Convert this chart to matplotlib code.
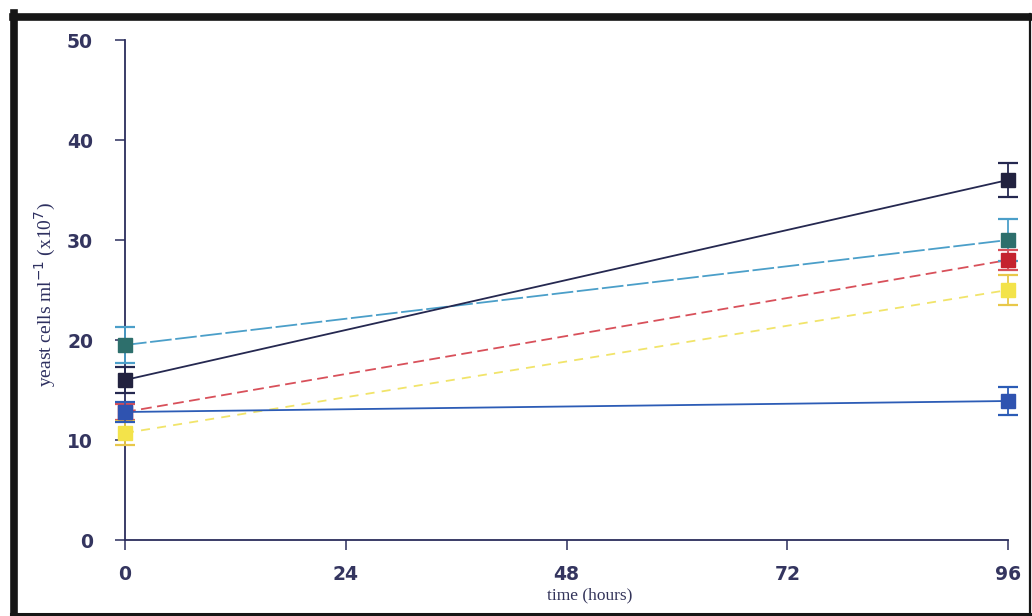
import matplotlib
matplotlib.use("Agg")
import matplotlib.pyplot as plt
from matplotlib.lines import Line2D

# Sampling times (hours)
time_h = [0, 96]

# Yeast counts (x10^7 cells per ml) and their standard errors
navy_vals = [16.0, 36.0]
navy_err = [1.3, 1.7]
teal_vals = [19.5, 30.0]
teal_err = [1.8, 2.1]
red_vals = [12.8, 28.0]
red_err = [0.8, 1.0]
yellow_vals = [10.7, 25.0]
yellow_err = [1.2, 1.5]
blue_vals = [12.8, 13.9]
blue_err = [1.0, 1.4]

x_ticks = [0, 24, 48, 72, 96]
y_ticks = [0, 10, 20, 30, 40, 50]

series = [
    # values, errors, line colour, marker colour, error-bar colour, dash pattern
    (teal_vals, teal_err, "#4b9fc9", "#2d6f6c", "#4b9fc9", (12, 2)),
    (navy_vals, navy_err, "#252850", "#22223f", "#252850", None),
    (red_vals, red_err, "#d8505a", "#c4222e", "#d8505a", (6, 3)),
    (yellow_vals, yellow_err, "#f1e46a", "#f3e34a", "#e8c84a", (5, 4)),
    (blue_vals, blue_err, "#2c5cb6", "#2f53b0", "#2c5cb6", None),
]

fig = plt.figure(figsize=(10.32, 6.16), dpi=100)
ax = fig.add_axes([125 / 1032, 1 - 540 / 616, (1008 - 125) / 1032, 500 / 616])

axis_col = "#2b2d5c"
for vals, errs, lc, mc, ec, dash in series:
    line, = ax.plot(time_h, vals, color=lc, lw=1.3, zorder=2, clip_on=False)
    if dash is not None:
        line.set_dashes(dash)
    ax.errorbar(time_h, vals, yerr=errs, fmt="s", ms=10, mfc=mc, mec=mc,
                ecolor=ec, elinewidth=1.3, capsize=7, capthick=1.6,
                zorder=3, clip_on=False)

ax.set_xlim(0, 96)
ax.set_ylim(0, 50)
ax.set_xticks(x_ticks)
ax.set_yticks(y_ticks)

for side in ("top", "right"):
    ax.spines[side].set_visible(False)
for side in ("left", "bottom"):
    ax.spines[side].set_color(axis_col)
    ax.spines[side].set_linewidth(1.3)

ax.tick_params(axis="both", direction="out", length=7, width=1.1, color=axis_col,
               labelcolor="#34355f", labelsize=13.5)
ax.tick_params(axis="y", pad=16)
ax.tick_params(axis="x", pad=11)
for lab in ax.get_xticklabels() + ax.get_yticklabels():
    lab.set_fontfamily("DejaVu Sans")
    lab.set_fontweight("bold")

ax.set_xlabel("time (hours)", fontfamily="Liberation Serif", fontsize=12.5,
              color="#33345a")
ax.xaxis.set_label_coords(0.526, -0.095)
ax.set_ylabel(r"yeast cells ml$^{-1}$ (x10$^{7}$)", fontfamily="Liberation Serif",
              fontsize=14, color="#2e3060")
ax.yaxis.set_label_coords(-0.076, 0.49)

# Scanned-page frame around the figure
frame_col = "#161616"
fig.add_artist(Line2D([13.5 / 1032, 13.5 / 1032], [1 - 613 / 616, 1 - 13 / 616],
                      transform=fig.transFigure, color=frame_col, lw=5.5))
fig.add_artist(Line2D([13 / 1032, 1031 / 1032], [1 - 16.5 / 616, 1 - 16.5 / 616],
                      transform=fig.transFigure, color=frame_col, lw=5.5))
fig.add_artist(Line2D([1029.5 / 1032, 1029.5 / 1032], [1 - 614 / 616, 1 - 14 / 616],
                      transform=fig.transFigure, color=frame_col, lw=1.6))
fig.add_artist(Line2D([11 / 1032, 1031 / 1032], [1 - 613.5 / 616, 1 - 613.5 / 616],
                      transform=fig.transFigure, color=frame_col, lw=2.2))

fig.savefig("out.png", dpi=100)
